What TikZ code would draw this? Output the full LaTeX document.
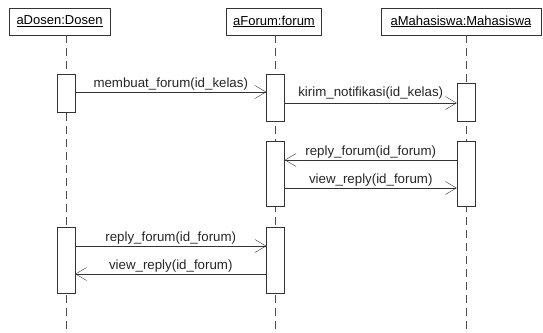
\documentclass[tikz,border=0pt]{standalone}
\usepackage{fontspec}
\setmainfont{Liberation Sans}
\usetikzlibrary{arrows.meta}
\begin{document}
\begin{tikzpicture}[x = 1pt, y = -1pt,
    obj/.style = {draw = black!80, minimum height = 27pt, inner sep = 0pt, font = \fontsize{13}{15}\selectfont},
    act/.style = {draw = black!80, fill = white, minimum width = 18pt, inner sep = 0pt},
    life/.style = {black!70, dash pattern = on 8pt off 5pt},
    msg/.style = {black!80, -{Straight Barb[length = 11pt, width = 13pt]}},
    lbl/.style = {above, inner sep = 1.2pt, text = black!85, font = \fontsize{13.3}{15}\selectfont}]
        \useasboundingbox (0, 0) rectangle (543, 332);

        % objects
        \node[obj, minimum width = 101pt] (dosen) at (59.5, 21.5) {\underline{aDosen:Dosen}};
        \node[obj, minimum width = 95pt] (forum) at (274, 21.5) {\underline{aForum:forum}};
        \node[obj, minimum width = 160pt] (mhs) at (461, 21.5) {\underline{aMahasiswa:Mahasiswa}};

        % lifelines
        \coordinate (lD) at (66, 35);
        \coordinate (lF) at (275.5, 35);
        \coordinate (lM) at (466, 35);
        \draw[life] (lD) -- (lD |- 0, 332);
        \draw[life] (lF) -- (lF |- 0, 332);
        \draw[life] (lM) -- (lM |- 0, 332);

        % activations
        \node[act, minimum height = 38pt] (d1) at (lD |- 0, 93) {};
        \node[act, minimum height = 47pt] (f1) at (lF |- 0, 97.5) {};
        \node[act, minimum height = 38pt] (m1) at (lM |- 0, 102) {};
        \node[act, minimum height = 65pt] (f2) at (lF |- 0, 173.5) {};
        \node[act, minimum height = 65pt] (m2) at (lM |- 0, 173.5) {};
        \node[act, minimum height = 66pt] (d2) at (lD |- 0, 260) {};
        \node[act, minimum height = 66pt] (f3) at (lF |- 0, 260) {};

        % messages
        \draw[msg] (d1.east |- 0, 92) -- node[lbl] {membuat\_forum(id\_kelas)} (f1.west |- 0, 92);
        \draw[msg] (f1.east |- 0, 103) -- node[lbl, yshift = 2pt] {kirim\_notifikasi(id\_kelas)} (m1.west |- 0, 103);
        \draw[msg] (m2.west |- 0, 160) -- node[lbl] {reply\_forum(id\_forum)} (f2.east |- 0, 160);
        \draw[msg] (f2.east |- 0, 188) -- node[lbl] {view\_reply(id\_forum)} (m2.west |- 0, 188);
        \draw[msg] (d2.east |- 0, 246) -- node[lbl] {reply\_forum(id\_forum)} (f3.west |- 0, 246);
        \draw[msg] (f3.west |- 0, 274) -- node[lbl] {view\_reply(id\_forum)} (d2.east |- 0, 274);
    \end{tikzpicture}
\end{document}
